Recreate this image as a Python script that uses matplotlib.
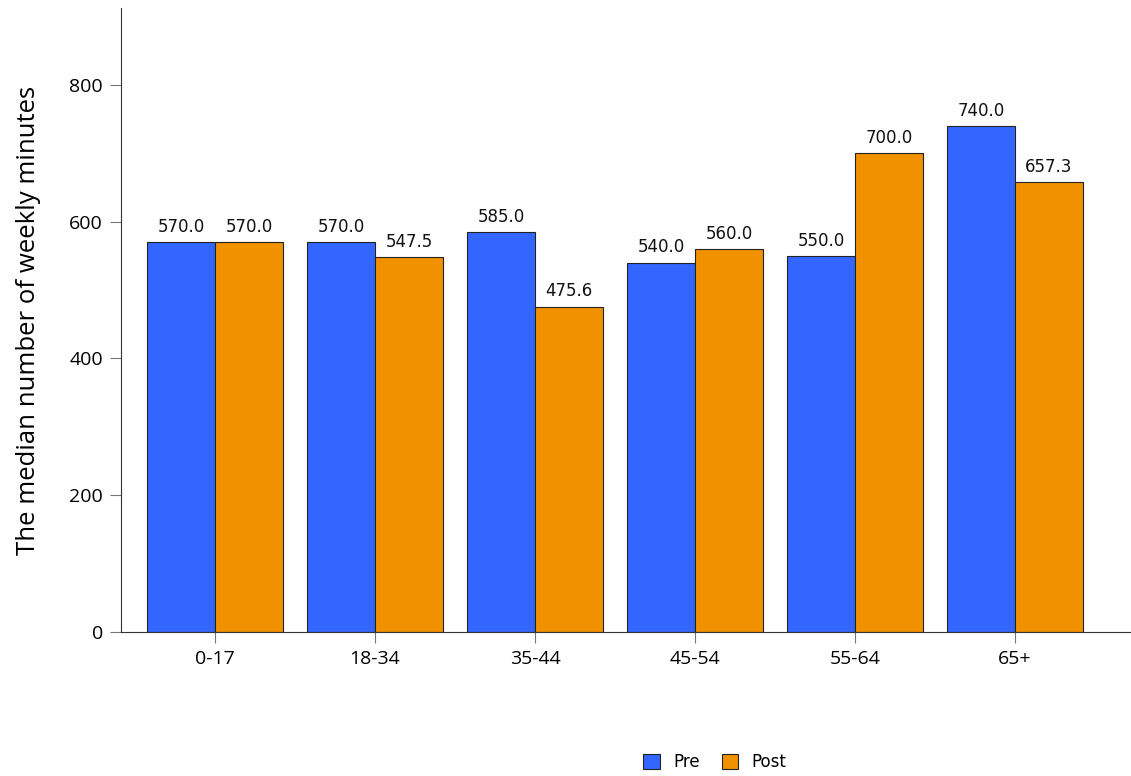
import numpy as np
import matplotlib.pyplot as plt

# age groups and median weekly minutes
groups = ["0-17", "18-34", "35-44", "45-54", "55-64", "65+"]
pre = [570.0, 570.0, 585.0, 540.0, 550.0, 740.0]
post = [570.0, 547.5, 475.6, 560.0, 700.0, 657.3]

fig = plt.figure(figsize=(11.31, 7.76), dpi=100)
ax = fig.add_axes([0.107, 0.1856, 0.893, 0.804])

x = np.arange(len(groups))
w = 0.425
b1 = ax.bar(x - w / 2, pre, w, color="#3366FF", edgecolor="#222222", linewidth=0.8, label="Pre")
b2 = ax.bar(x + w / 2, post, w, color="#F29100", edgecolor="#222222", linewidth=0.8, label="Post")

for bars in (b1, b2):
    for r in bars:
        ax.text(r.get_x() + r.get_width() / 2, r.get_height() + 9, f"{r.get_height():.1f}",
                ha="center", va="bottom", fontsize=12, color="#111111")

ax.set_xlim(-0.5875, 5.725)
ax.set_ylim(0, 912)
ax.set_yticks([0, 200, 400, 600, 800])
ax.set_xticks(x)
ax.set_xticklabels(groups)
ax.tick_params(axis="both", length=8, color="#777777", labelsize=14, pad=5)
for lbl in ax.get_xticklabels() + ax.get_yticklabels():
    lbl.set_family("Open Sans")
for s in ("top", "right"):
    ax.spines[s].set_visible(False)
ax.spines["left"].set_color("#333333")
ax.spines["bottom"].set_color("#333333")

ax.set_ylabel("The median number of weekly minutes", fontsize=18.5, family="Open Sans", labelpad=20)

fig.legend(handles=[b1, b2], loc="center", bbox_to_anchor=(0.632, 0.018), ncol=2,
           frameon=False, fontsize=12, handlelength=1.0, handleheight=1.0, columnspacing=1.3)

fig.savefig("out.png", dpi=100)
